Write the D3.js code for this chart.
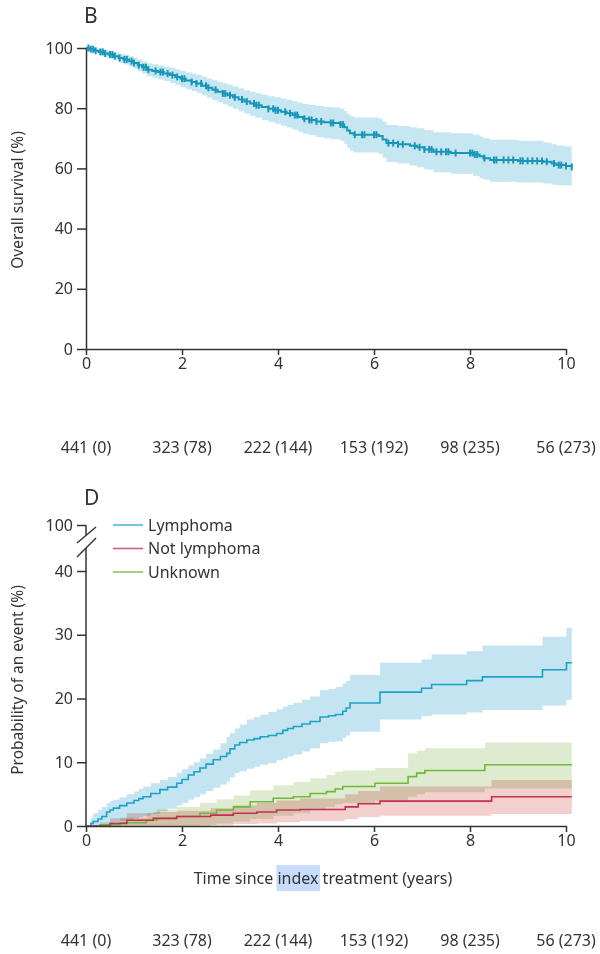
<!DOCTYPE html>
<html>
<head>
<meta charset="utf-8">
<script src="https://cdn.jsdelivr.net/npm/d3@7"></script>
<style>
body { margin: 0; background: #fff; }
svg text { font-family: 'Noto Sans', sans-serif; fill: #333; }
.axis path, .axis line { stroke: #333; stroke-width: 1.5; }
.axis text { font-size: 16px; fill: #333; }
</style>
</head>
<body>
<div id="chart"></div>
<script>
// panel B: overall survival (step points)
const survTime = [0, 0.08, 0.18, 0.27, 0.38, 0.47, 0.58, 0.68, 0.78, 0.9, 1.0, 1.08, 1.17, 1.27, 1.38, 1.5, 1.62, 1.75, 1.86, 1.97, 2.08, 2.2, 2.3, 2.42, 2.52, 2.63, 2.74, 2.85, 2.95, 3.06, 3.18, 3.3, 3.42, 3.53, 3.66, 3.8, 3.94, 4.06, 4.18, 4.3, 4.42, 4.52, 4.65, 4.8, 4.95, 5.1, 5.3, 5.38, 5.44, 5.5, 5.58, 6.1, 6.18, 6.26, 6.5, 6.75, 6.9, 7.05, 7.24, 7.6, 8.07, 8.2, 8.28, 8.42, 9.0, 9.53, 9.7, 9.8, 10.0, 10.12]
const survPct = [100, 99.6, 99.1, 98.7, 98.2, 97.8, 97.3, 96.7, 96.2, 95.6, 95, 94.3, 93.6, 92.8, 92.4, 92, 91.5, 91, 90.4, 89.8, 89.2, 88.7, 88.2, 87.5, 86.8, 86.1, 85.5, 84.9, 84.3, 83.6, 82.9, 82.2, 81.6, 81, 80.4, 79.8, 79.3, 78.8, 78.3, 77.7, 77.1, 76.5, 76.1, 75.6, 75.3, 75.1, 74.6, 73.7, 72.6, 71.7, 71.2, 70.8, 69.6, 68.4, 68, 67.5, 67, 66.3, 65.5, 65.1, 64.6, 64, 63.4, 62.8, 62.5, 62.2, 61.6, 61.1, 60.8, 60.5]
const survUpper = [100, 100, 99.8, 99.6, 99.3, 99.1, 98.7, 98.2, 97.8, 97.3, 96.8, 96.2, 95.6, 94.9, 94.6, 94.3, 93.8, 93.4, 92.9, 92.4, 91.9, 91.5, 91.1, 90.5, 89.9, 89.3, 88.8, 88.3, 87.8, 87.2, 86.6, 86, 85.5, 85, 84.5, 84, 83.6, 83.2, 82.8, 82.3, 81.8, 81.4, 81.1, 80.7, 80.4, 80.3, 79.9, 79.1, 78.1, 77.3, 76.9, 76.6, 75.5, 74.4, 74.1, 73.7, 73.3, 72.7, 72, 71.7, 71.2, 70.6, 70, 69.5, 69.2, 68.6, 68, 67.6, 67.4, 67.2]
const survLower = [100, 99.2, 98.4, 97.8, 97.1, 96.5, 95.9, 95.1, 94.5, 93.8, 93.1, 92.3, 91.5, 90.6, 90.1, 89.6, 89, 88.4, 87.7, 87, 86.3, 85.7, 85.1, 84.3, 83.5, 82.7, 82, 81.3, 80.6, 79.8, 79, 78.2, 77.5, 76.8, 76.1, 75.4, 74.8, 74.2, 73.6, 72.9, 72.2, 71.5, 71, 70.4, 70, 69.7, 69.1, 68.1, 66.9, 65.9, 65.3, 64.8, 63.5, 62.1, 61.6, 61, 60.4, 59.6, 58.7, 58.2, 57.5, 56.8, 56.2, 55.6, 55.3, 55, 54.6, 54.4, 54.3, 54.2]
const censorTimes = [0.05, 0.1, 0.15, 0.2, 0.3, 0.35, 0.4, 0.5, 0.55, 0.6, 0.7, 0.8, 0.85, 0.95, 1.0, 1.1, 1.2, 1.25, 1.3, 1.45, 1.55, 1.6, 1.7, 1.8, 1.9, 2.0, 2.05, 2.2, 2.3, 2.4, 2.5, 2.55, 2.7, 2.85, 2.9, 3.0, 3.1, 3.25, 3.35, 3.5, 3.55, 3.6, 3.8, 3.9, 3.95, 4.0, 4.15, 4.25, 4.35, 4.4, 4.55, 4.65, 4.7, 4.8, 4.9, 5.1, 5.15, 5.3, 5.35, 5.6, 5.75, 5.8, 6.0, 6.05, 6.3, 6.4, 6.5, 6.6, 6.85, 6.95, 7.05, 7.15, 7.2, 7.3, 7.4, 7.5, 7.55, 7.7, 8.0, 8.05, 8.1, 8.15, 8.3, 8.5, 8.55, 8.7, 8.8, 8.9, 9.05, 9.1, 9.2, 9.3, 9.4, 9.5, 9.6, 9.75, 9.85, 9.9, 10.0, 10.12]

// panel D: cumulative incidence by group
const lymTime = [0, 0.1, 0.15, 0.25, 0.33, 0.43, 0.5, 0.57, 0.7, 0.85, 1.0, 1.1, 1.19, 1.35, 1.54, 1.7, 1.89, 2.0, 2.13, 2.25, 2.375, 2.5, 2.65, 2.8, 2.93, 3.0, 3.1, 3.2, 3.35, 3.5, 3.63, 3.8, 3.97, 4.1, 4.2, 4.32, 4.5, 4.67, 4.875, 5.05, 5.2, 5.35, 5.42, 5.5, 6.125, 6.99, 7.2, 7.93, 8.26, 9.51, 10.01, 10.12]
const lymPct = [0, 0.4, 0.7, 1.1, 1.5, 2.2, 2.5, 2.8, 3.2, 3.6, 4.0, 4.3, 4.6, 5.1, 5.7, 6.1, 6.7, 7.3, 8.0, 8.5, 9.1, 9.7, 10.4, 10.9, 11.4, 12.1, 12.7, 13.1, 13.5, 13.7, 14.0, 14.2, 14.5, 15.0, 15.3, 15.6, 16.0, 16.4, 17.1, 17.3, 17.5, 18.0, 18.5, 19.3, 21.0, 21.6, 22.2, 22.8, 23.4, 24.5, 25.6, 25.6]
const lymUpper = [0, 1.3, 2.0, 2.5, 3.0, 3.6, 3.9, 4.1, 4.5, 5.0, 5.4, 5.8, 6.2, 6.7, 7.2, 7.7, 8.3, 8.9, 9.5, 10.0, 10.6, 11.3, 12.0, 13.0, 14.0, 14.6, 15.3, 15.9, 16.7, 17.1, 17.5, 17.9, 18.3, 18.7, 19.0, 19.3, 19.8, 20.3, 21.3, 21.5, 21.8, 22.3, 22.8, 23.7, 25.6, 26.1, 26.9, 27.4, 28.3, 29.7, 31.1, 31.1]
const lymLower = [0, 0, 0, 0, 0, 0.3, 0.4, 0.6, 0.8, 1.0, 1.2, 1.4, 1.6, 1.9, 2.3, 2.7, 3.2, 3.6, 4.1, 4.5, 5.0, 5.5, 6.0, 6.5, 7.0, 7.6, 8.3, 8.6, 9.0, 9.3, 9.6, 9.9, 10.3, 10.6, 10.9, 11.2, 11.7, 12.2, 13.0, 13.2, 13.3, 13.8, 14.2, 14.8, 16.7, 17.2, 17.5, 17.8, 18.2, 18.9, 19.8, 19.8]

const notTime = [0, 0.5, 0.85, 1.4, 1.89, 2.6, 3.07, 3.56, 3.97, 4.46, 5.4, 5.67, 6.125, 8.45, 10.12]
const notPct = [0, 0.4, 0.9, 1.2, 1.5, 1.7, 2.0, 2.2, 2.5, 2.6, 3.0, 3.5, 3.9, 4.6, 4.6]
const notUpper = [0, 1.2, 2.0, 2.2, 2.4, 2.8, 3.2, 3.6, 4.0, 4.3, 5.0, 5.5, 6.2, 7.2, 7.2]
const notLower = [0, 0, 0, 0, 0, 0.1, 0.3, 0.4, 0.6, 0.8, 1.1, 1.4, 1.6, 1.9, 1.9]

const unkTime = [0, 0.29, 0.71, 1.26, 1.47, 1.89, 2.375, 2.72, 3.07, 3.42, 3.9, 4.32, 4.67, 5.01, 5.19, 5.35, 6.02, 6.71, 6.89, 7.06, 8.31, 10.12]
const unkPct = [0, 0.2, 0.5, 0.9, 1.2, 1.5, 2.0, 2.5, 3.0, 3.8, 4.35, 4.6, 5.1, 5.4, 5.8, 6.2, 6.7, 7.75, 8.3, 8.7, 9.6, 9.6]
const unkUpper = [0, 0.6, 1.3, 2.0, 2.6, 3.0, 3.6, 4.2, 4.8, 5.6, 6.4, 6.9, 7.5, 8.0, 8.5, 8.7, 9.1, 11.4, 11.8, 12.2, 13.1, 13.1]
const unkLower = [0, 0, 0, 0, 0, 0, 0.1, 0.4, 0.7, 1.1, 1.6, 2.0, 2.5, 3.0, 3.4, 3.6, 4.0, 4.6, 5.0, 5.3, 5.9, 5.9]

const groupNames = ['Lymphoma', 'Not lymphoma', 'Unknown']
const xTicks = [0, 2, 4, 6, 8, 10]
const atRisk = ['441 (0)', '323 (78)', '222 (144)', '153 (192)', '98 (235)', '56 (273)']

const width = 600, height = 954
const svg = d3.select('#chart').append('svg').attr('width', width).attr('height', height)

const x = d3.scaleLinear().domain([0, 10]).range([86, 566])
const yB = d3.scaleLinear().domain([0, 100]).range([349, 48])
// broken axis: 40 -> 100 squeezed into a short segment
const yD = d3.scaleLinear().domain([0, 40, 100]).range([826, 571, 525])

function toRows(t, v, lo, hi) {
    return t.map((d, i) => ({t: d, v: v[i], lo: lo[i], hi: hi[i]}))
}

function drawCurve(g, rows, yScale, lineColor, bandColor, lw, blend) {
    const area = d3.area().curve(d3.curveStepAfter)
        .x(d => x(d.t)).y0(d => yScale(d.lo)).y1(d => yScale(d.hi))
    const line = d3.line().curve(d3.curveStepAfter)
        .x(d => x(d.t)).y(d => yScale(d.v))
    g.append('path').datum(rows).attr('d', area).attr('fill', bandColor)
        .style('mix-blend-mode', blend || 'normal')
    return g.append('path').datum(rows).attr('class', 'curve').attr('d', line)
        .attr('fill', 'none').attr('stroke', lineColor).attr('stroke-width', lw)
}

function drawXAxis(y0) {
    svg.append('g').attr('class', 'axis')
        .attr('transform', `translate(0, ${y0})`)
        .call(d3.axisBottom(x).tickValues(xTicks).tickSize(6).tickSizeOuter(0).tickPadding(3))
        .call(g => g.selectAll('text').attr('font-family', 'Noto Sans'))
}

function drawAtRisk(yText) {
    svg.append('g').selectAll('text')
        .data(atRisk).enter().append('text')
        .attr('x', (d, i) => x(xTicks[i]))
        .attr('y', yText)
        .attr('text-anchor', 'middle')
        .style('font-size', '16px')
        .text(d => d)
}

function yTitle(label, cy) {
    svg.append('text')
        .attr('transform', `translate(23, ${cy}) rotate(-90)`)
        .attr('text-anchor', 'middle')
        .style('font-size', '15.5px')
        .text(label)
}

// ---------- panel B ----------
svg.append('text').attr('x', 84).attr('y', 23).style('font-size', '21px').text('B')

const survRows = toRows(survTime, survPct, survLower, survUpper)
const gB = svg.append('g')
drawCurve(gB, survRows, yB, '#1796b9', '#c6e6f2', 2)

function survAt(t) {
    const i = d3.bisectRight(survTime, t) - 1
    return survPct[Math.max(0, i)]
}
gB.selectAll('line.censor')
    .data(censorTimes).enter().append('line')
    .attr('class', 'censor')
    .attr('x1', d => x(d)).attr('x2', d => x(d))
    .attr('y1', d => yB(survAt(d)) - 3.5)
    .attr('y2', d => yB(survAt(d)) + 3.5)
    .attr('stroke', '#1796b9').attr('stroke-width', 2)

svg.append('g').attr('class', 'axis')
    .attr('transform', `translate(${x(0)}, 0)`)
    .call(d3.axisLeft(yB).tickValues([0, 20, 40, 60, 80, 100]).tickSize(9).tickSizeOuter(0).tickPadding(4))
    .call(g => g.select('.domain').attr('stroke-width', 2))
drawXAxis(yB(0))
yTitle('Overall survival (%)', 200)
drawAtRisk(453)

// ---------- panel D ----------
svg.append('text').attr('x', 84).attr('y', 505).style('font-size', '21px').text('D')

const gD = svg.append('g')
drawCurve(gD, toRows(lymTime, lymPct, lymLower, lymUpper), yD, '#1ba2c6', '#c4e4f1', 1.6)
drawCurve(gD, toRows(unkTime, unkPct, unkLower, unkUpper), yD, '#6cba3c', 'rgb(223, 235, 208)', 1.6, 'multiply')
drawCurve(gD, toRows(notTime, notPct, notLower, notUpper), yD, '#c3304f', 'rgb(243, 207, 206)', 1.6, 'multiply')
// keep lines above the bands
gD.selectAll('path.curve').raise()

const yAxisD = svg.append('g').attr('class', 'axis')
    .attr('transform', `translate(${x(0)}, 0)`)
    .call(d3.axisLeft(yD).tickValues([0, 10, 20, 30, 40, 100]).tickSize(9).tickSizeOuter(0).tickPadding(4))
yAxisD.select('.domain').remove()
const top100 = yD(100)
yAxisD.append('line').attr('x1', 0).attr('x2', 0).attr('y1', top100).attr('y2', top100 + 10)
yAxisD.append('line').attr('x1', 0).attr('x2', 0).attr('y1', top100 + 23).attr('y2', yD(0))
    .attr('stroke-width', 2)
yAxisD.append('line').attr('x1', 10).attr('x2', -9).attr('y1', top100 + 2).attr('y2', top100 + 18)
yAxisD.append('line').attr('x1', 10).attr('x2', -9).attr('y1', top100 + 13).attr('y2', top100 + 32)

drawXAxis(yD(0))
yTitle('Probability of an event (%)', 680)

const xTitle = svg.append('text')
    .attr('x', 323).attr('y', 884)
    .attr('text-anchor', 'middle')
    .style('font-size', '16px')
xTitle.append('tspan').text('Time since ')
const hl = xTitle.append('tspan').text('index')
xTitle.append('tspan').text(' treatment (years)')
const bb = hl.node().getBBox()
svg.insert('rect', 'text')
    .attr('x', bb.x - 1).attr('y', 865).attr('width', bb.width + 2).attr('height', 26)
    .attr('fill', '#c7dcfb')

drawAtRisk(946)

// legend
const legendColors = ['#4db6d6', '#d05d79', '#8ac85e']
const legend = svg.append('g').selectAll('g')
    .data(groupNames).enter().append('g')
    .attr('transform', (d, i) => `translate(113, ${525 + i * 23.5})`)
legend.append('line').attr('x1', 0).attr('x2', 30).attr('y1', 0).attr('y2', 0)
    .attr('stroke', (d, i) => legendColors[i]).attr('stroke-width', 1.6)
legend.append('text').attr('x', 35).attr('dy', '0.35em')
    .style('font-size', '16px')
    .text(d => d)
</script>
</body>
</html>
